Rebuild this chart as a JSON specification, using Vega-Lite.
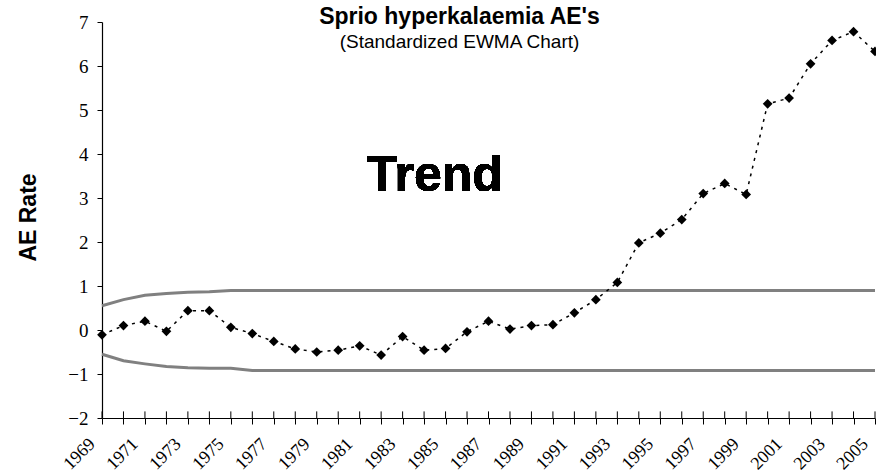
{
  "$schema": "https://vega.github.io/schema/vega-lite/v6.json",
  "width": 773,
  "height": 396,
  "autosize": {"type": "none"},
  "padding": {"left": 102, "top": 22, "right": 1, "bottom": 58},
  "background": "white",
  "title": {
    "text": "Sprio hyperkalaemia AE's",
    "subtitle": "(Standardized EWMA Chart)",
    "anchor": "middle",
    "frame": "group",
    "dx": -29,
    "offset": -39,
    "font": "Liberation Sans",
    "fontSize": 23,
    "fontWeight": "bold",
    "color": "black",
    "subtitleFont": "Liberation Sans",
    "subtitleFontSize": 19,
    "subtitleColor": "black",
    "subtitlePadding": 4
  },
  "config": {
    "view": {"stroke": null},
    "axis": {
      "grid": false,
      "domainColor": "black",
      "tickColor": "black",
      "labelColor": "black",
      "labelFont": "Liberation Serif, Times New Roman, serif",
      "titleFont": "Liberation Sans",
      "titleColor": "black"
    }
  },
  "data": {
    "values": [
      {"year": 1969, "ewma": -0.11, "ucl": 0.55, "lcl": -0.55},
      {"year": 1970, "ewma": 0.10, "ucl": 0.69, "lcl": -0.70},
      {"year": 1971, "ewma": 0.20, "ucl": 0.79, "lcl": -0.77},
      {"year": 1972, "ewma": -0.03, "ucl": 0.83, "lcl": -0.83},
      {"year": 1973, "ewma": 0.44, "ucl": 0.86, "lcl": -0.86},
      {"year": 1974, "ewma": 0.44, "ucl": 0.87, "lcl": -0.87},
      {"year": 1975, "ewma": 0.06, "ucl": 0.90, "lcl": -0.87},
      {"year": 1976, "ewma": -0.08, "ucl": 0.90, "lcl": -0.92},
      {"year": 1977, "ewma": -0.26, "ucl": 0.90, "lcl": -0.92},
      {"year": 1978, "ewma": -0.43, "ucl": 0.90, "lcl": -0.92},
      {"year": 1979, "ewma": -0.50, "ucl": 0.90, "lcl": -0.92},
      {"year": 1980, "ewma": -0.46, "ucl": 0.90, "lcl": -0.92},
      {"year": 1981, "ewma": -0.36, "ucl": 0.90, "lcl": -0.92},
      {"year": 1982, "ewma": -0.57, "ucl": 0.90, "lcl": -0.92},
      {"year": 1983, "ewma": -0.15, "ucl": 0.90, "lcl": -0.92},
      {"year": 1984, "ewma": -0.46, "ucl": 0.90, "lcl": -0.92},
      {"year": 1985, "ewma": -0.42, "ucl": 0.90, "lcl": -0.92},
      {"year": 1986, "ewma": -0.04, "ucl": 0.90, "lcl": -0.92},
      {"year": 1987, "ewma": 0.20, "ucl": 0.90, "lcl": -0.92},
      {"year": 1988, "ewma": 0.02, "ucl": 0.90, "lcl": -0.92},
      {"year": 1989, "ewma": 0.10, "ucl": 0.90, "lcl": -0.92},
      {"year": 1990, "ewma": 0.12, "ucl": 0.90, "lcl": -0.92},
      {"year": 1991, "ewma": 0.39, "ucl": 0.90, "lcl": -0.92},
      {"year": 1992, "ewma": 0.69, "ucl": 0.90, "lcl": -0.92},
      {"year": 1993, "ewma": 1.08, "ucl": 0.90, "lcl": -0.92},
      {"year": 1994, "ewma": 1.98, "ucl": 0.90, "lcl": -0.92},
      {"year": 1995, "ewma": 2.20, "ucl": 0.90, "lcl": -0.92},
      {"year": 1996, "ewma": 2.51, "ucl": 0.90, "lcl": -0.92},
      {"year": 1997, "ewma": 3.10, "ucl": 0.90, "lcl": -0.92},
      {"year": 1998, "ewma": 3.33, "ucl": 0.90, "lcl": -0.92},
      {"year": 1999, "ewma": 3.08, "ucl": 0.90, "lcl": -0.92},
      {"year": 2000, "ewma": 5.14, "ucl": 0.90, "lcl": -0.92},
      {"year": 2001, "ewma": 5.27, "ucl": 0.90, "lcl": -0.92},
      {"year": 2002, "ewma": 6.05, "ucl": 0.90, "lcl": -0.92},
      {"year": 2003, "ewma": 6.58, "ucl": 0.90, "lcl": -0.92},
      {"year": 2004, "ewma": 6.78, "ucl": 0.90, "lcl": -0.92},
      {"year": 2005, "ewma": 6.33, "ucl": 0.90, "lcl": -0.92}
    ]
  },
  "encoding": {
    "x": {
      "field": "year",
      "type": "quantitative",
      "scale": {"domain": [1969, 2005], "nice": false, "zero": false},
      "axis": {
        "title": null,
        "values": [1969,1970,1971,1972,1973,1974,1975,1976,1977,1978,1979,1980,1981,1982,1983,1984,1985,1986,1987,1988,1989,1990,1991,1992,1993,1994,1995,1996,1997,1998,1999,2000,2001,2002,2003,2004,2005],
        "labelExpr": "datum.value % 2 == 1 ? format(datum.value, 'd') : ''",
        "labelFont": "Liberation Serif, Times New Roman, serif",
        "labelAngle": -45,
        "labelAlign": "right",
        "labelBaseline": "middle",
        "labelFontSize": 18,
        "labelPadding": 17,
        "labelOffset": -10,
        "labelOverlap": false,
        "labelFlush": false,
        "labelBound": false,
        "tickSize": 6,
        "domainWidth": 1.2
      }
    }
  },
  "layer": [
    {
      "mark": {"type": "line", "color": "#808080", "strokeWidth": 3},
      "encoding": {
        "y": {
          "field": "ucl",
          "type": "quantitative",
          "scale": {"domain": [-2, 7], "nice": false, "zero": false},
          "axis": {
            "title": "AE Rate",
            "titleFontSize": 23,
            "titleFontWeight": "bold",
            "titleX": -67,
            "titleY": 195,
            "titleAngle": -90,
            "titleAlign": "center",
            "titleBaseline": "alphabetic",
            "values": [-2, -1, 0, 1, 2, 3, 4, 5, 6, 7],
            "format": "d",
            "labelFont": "Liberation Serif, Times New Roman, serif",
            "labelFontSize": 19,
            "labelPadding": 9,
            "tickSize": 5,
            "domainWidth": 1.2
          }
        }
      }
    },
    {
      "mark": {"type": "line", "color": "#808080", "strokeWidth": 3},
      "encoding": {"y": {"field": "lcl", "type": "quantitative"}}
    },
    {
      "mark": {"type": "rule", "color": "#808080", "strokeWidth": 1.5},
      "encoding": {"y": {"datum": 0}}
    },
    {
      "mark": {"type": "rule", "color": "black", "strokeWidth": 1},
      "encoding": {"y": {"datum": -2}, "y2": {"datum": -1.85}}
    },
    {
      "mark": {"type": "line", "color": "black", "strokeWidth": 1.5, "strokeDash": [3, 5]},
      "encoding": {"y": {"field": "ewma", "type": "quantitative"}}
    },
    {
      "mark": {"type": "point", "shape": "diamond", "filled": true, "color": "black", "size": 95, "opacity": 1},
      "encoding": {"y": {"field": "ewma", "type": "quantitative"}}
    },
    {
      "mark": {"type": "text", "text": "Trend", "font": "Liberation Sans", "fontSize": 50, "fontWeight": "bold", "color": "black", "align": "center", "baseline": "alphabetic"},
      "encoding": {"x": {"datum": 1984.5}, "y": {"datum": 3.15}}
    }
  ]
}
